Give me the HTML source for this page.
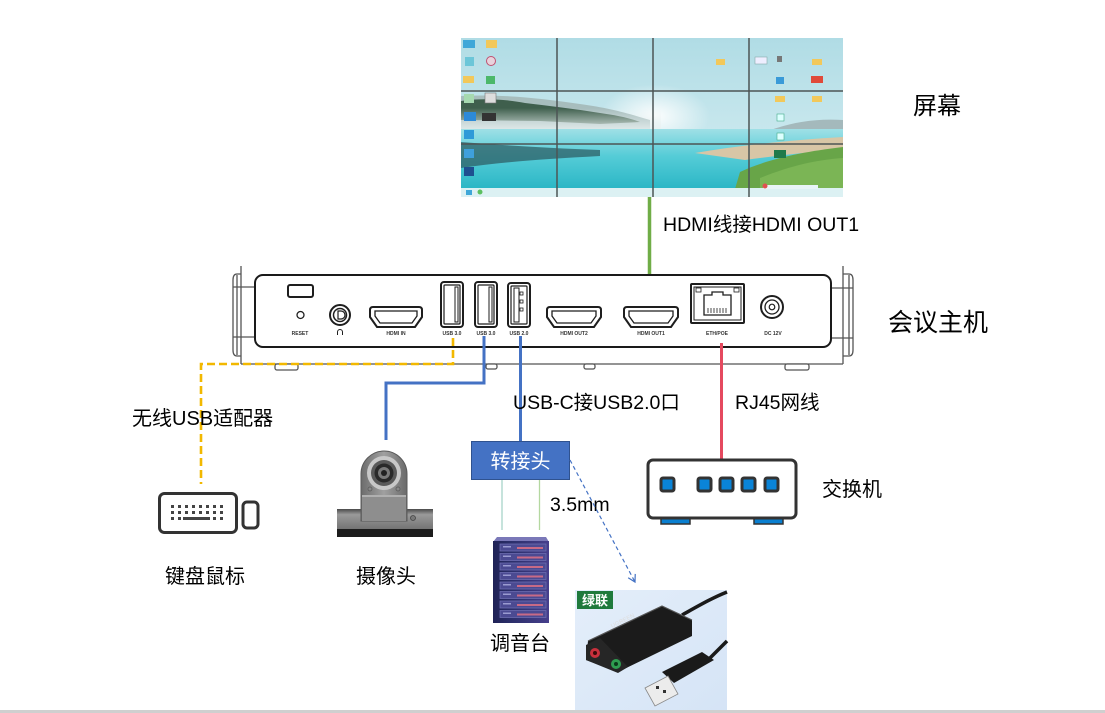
<!DOCTYPE html>
<html><head><meta charset="utf-8">
<style>
html,body{margin:0;padding:0;background:#fff;}
body{width:1105px;height:713px;overflow:hidden;position:relative;}
svg{position:absolute;left:0;top:0;}
.t{font-family:"Liberation Sans","Noto Sans CJK SC",sans-serif;fill:#000;}
.p{font-family:"Liberation Sans",sans-serif;font-weight:bold;font-size:5px;fill:#333;text-anchor:middle;}
</style></head><body>
<svg width="1105" height="713" viewBox="0 0 1105 713" xmlns="http://www.w3.org/2000/svg">
<defs>
 <linearGradient id="sky" x1="0" y1="0" x2="0" y2="1">
  <stop offset="0" stop-color="#b0dce5"/><stop offset="1" stop-color="#d8eff3"/>
 </linearGradient>
 <linearGradient id="water" x1="0" y1="0" x2="0" y2="1">
  <stop offset="0" stop-color="#9fe0e6"/><stop offset="0.45" stop-color="#55ccd7"/><stop offset="1" stop-color="#2ab6c5"/>
 </linearGradient>
 <radialGradient id="sun" cx="0.5" cy="0.5" r="0.5">
  <stop offset="0" stop-color="#ffffff" stop-opacity="0.95"/><stop offset="1" stop-color="#ffffff" stop-opacity="0"/>
 </radialGradient>
 <linearGradient id="mist" x1="0" y1="0" x2="0" y2="1">
  <stop offset="0" stop-color="#e9f1f1" stop-opacity="0"/><stop offset="1" stop-color="#e9f1f1" stop-opacity="0.85"/>
 </linearGradient>
 <linearGradient id="rack" x1="0" y1="0" x2="1" y2="0">
  <stop offset="0" stop-color="#1f2256"/><stop offset="0.35" stop-color="#2c2f6c"/><stop offset="1" stop-color="#463f8c"/>
 </linearGradient>
 <linearGradient id="camhead" x1="0" y1="0" x2="1" y2="0">
  <stop offset="0" stop-color="#6c6c6c"/><stop offset="0.5" stop-color="#a0a0a0"/><stop offset="1" stop-color="#6a6a6a"/>
 </linearGradient>
 <linearGradient id="bar" x1="0" y1="0" x2="0" y2="1">
  <stop offset="0" stop-color="#4a4a4a"/><stop offset="0.25" stop-color="#9a9a9a"/><stop offset="1" stop-color="#6e6e6e"/>
 </linearGradient>
 <linearGradient id="ugbg" x1="0" y1="0" x2="1" y2="1">
  <stop offset="0" stop-color="#e4eefa"/><stop offset="1" stop-color="#d5e4f6"/>
 </linearGradient>
 <clipPath id="scr"><rect x="461" y="38" width="382" height="159"/></clipPath>
 <marker id="arr" markerWidth="10" markerHeight="10" refX="8" refY="5" orient="auto" markerUnits="userSpaceOnUse">
  <path d="M1,1 L8,5 L1,9" fill="none" stroke="#4472c4" stroke-width="1.2"/>
 </marker>
</defs>

<!-- ===== SCREEN ===== -->
<g clip-path="url(#scr)">
 <rect x="461" y="38" width="382" height="159" fill="url(#sky)"/>
 <ellipse cx="655" cy="116" rx="55" ry="32" fill="url(#sun)"/>
 <path d="M461,96 C500,94 540,98 580,104 C610,108 630,114 650,120 L650,130 L461,130 Z" fill="#a7bdbd"/>
 <path d="M461,101 C480,98 505,99 525,103 C550,106 575,109 600,113 C615,115 630,118 640,122 L600,124 L540,121 L461,120 Z" fill="#3f5f4d"/>
 <rect x="461" y="108" width="200" height="22" fill="url(#mist)"/>
 <path d="M760,134 C785,124 810,118 843,120 L843,136 L760,136 Z" fill="#a4b9bc"/>
 <rect x="461" y="129" width="382" height="60" fill="url(#water)"/>
 <path d="M461,142 C500,145 545,148 600,150 L600,156 C545,159 500,162 461,168 Z" fill="#2e5f65" opacity="0.75"/>
 <path d="M695,153 C735,146 790,140 843,137 L843,150 C805,152 775,156 745,160 Z" fill="#d8c6a6"/>
 <path d="M740,172 C765,160 800,152 843,147 L843,189 L735,189 Z" fill="#68a548"/>
 <path d="M760,178 C790,166 815,160 843,158 L843,189 L760,189 Z" fill="#7bb555"/>
 <rect x="461" y="188" width="382" height="9" fill="#dcf1f3"/>
 <!-- icons -->
 <g>
  <rect x="463" y="40" width="12" height="8" fill="#3fa7d8"/>
  <rect x="486" y="40" width="11" height="8" fill="#f2c85a"/>
  <rect x="465" y="57" width="9" height="9" fill="#6cc6d8"/>
  <circle cx="491" cy="61" r="4.5" fill="#e8d2dc" stroke="#c05070" stroke-width="1"/>
  <rect x="463" y="76" width="11" height="7" fill="#f2c85a"/>
  <rect x="486" y="76" width="9" height="8" fill="#4cb86a"/>
  <rect x="464" y="94" width="10" height="9" fill="#a6d9b0"/>
  <rect x="485" y="93" width="11" height="10" fill="#ddd" stroke="#777" stroke-width="0.6"/>
  <rect x="464" y="112" width="12" height="9" fill="#2d8ad8"/>
  <rect x="482" y="113" width="14" height="8" fill="#333"/>
  <rect x="464" y="130" width="10" height="9" fill="#2e9ad8"/>
  <rect x="464" y="149" width="10" height="9" fill="#3ea0dc"/>
  <rect x="464" y="167" width="10" height="9" fill="#1e4f90"/>
  <rect x="716" y="59" width="9" height="6" fill="#f2c85a"/>
  <rect x="755" y="57" width="12" height="7" fill="#eef" stroke="#8aa" stroke-width="0.6"/>
  <rect x="777" y="56" width="5" height="6" fill="#777"/>
  <rect x="812" y="59" width="10" height="6" fill="#f2c85a"/>
  <rect x="776" y="77" width="8" height="7" fill="#3a9ad8"/>
  <rect x="811" y="76" width="12" height="7" fill="#e04a3a"/>
  <rect x="775" y="96" width="10" height="6" fill="#f2c85a"/>
  <rect x="812" y="96" width="10" height="6" fill="#f2c85a"/>
  <rect x="777" y="114" width="7" height="7" fill="#dff" stroke="#4a8" stroke-width="0.6"/>
  <rect x="777" y="133" width="7" height="7" fill="#dff" stroke="#4a8" stroke-width="0.6"/>
  <rect x="774" y="150" width="12" height="8" fill="#1f7a4a"/>
  <rect x="763" y="185" width="55" height="4" fill="#e8f4f6"/>
  <circle cx="765" cy="186" r="2.5" fill="#e05050"/>
  <rect x="466" y="190" width="6" height="5" fill="#3fa7d8"/>
  <circle cx="480" cy="192" r="2.5" fill="#5cc060"/>
 </g>
 <!-- grid -->
 <g stroke="#4d5555" stroke-width="1.5">
  <line x1="557" y1="38" x2="557" y2="197"/>
  <line x1="653" y1="38" x2="653" y2="197"/>
  <line x1="749" y1="38" x2="749" y2="197"/>
  <line x1="461" y1="91" x2="843" y2="91"/>
  <line x1="461" y1="144" x2="843" y2="144"/>
 </g>
</g>

<!-- ===== CONNECTORS ===== -->
<line x1="649.5" y1="197" x2="649.5" y2="305" stroke="#70ad47" stroke-width="3.5"/>

<!-- ===== HOST DEVICE ===== -->
<g fill="none" stroke="#555" stroke-width="1.3">
 <line x1="241" y1="266" x2="241" y2="364"/>
 <line x1="843" y1="266" x2="843" y2="364"/>
 <line x1="241" y1="364" x2="843" y2="364"/>
 <path d="M241,274 H237 Q233,274 233,280 V350 Q233,356 237,356 H241"/>
 <path d="M237,275 V355"/>
 <line x1="233" y1="287" x2="255" y2="287"/>
 <line x1="233" y1="337" x2="255" y2="337"/>
 <path d="M843,274 H849 Q853,274 853,280 V350 Q853,356 849,356 H843"/>
 <path d="M849,275 V355"/>
 <line x1="831" y1="288" x2="853" y2="288"/>
 <line x1="831" y1="338" x2="853" y2="338"/>
 <rect x="275" y="364" width="23" height="6" rx="2" fill="#fff"/>
 <rect x="486" y="364" width="11" height="5" rx="2" fill="#fff"/>
 <rect x="584" y="364" width="11" height="5" rx="2" fill="#fff"/>
 <rect x="785" y="364" width="24" height="6" rx="2" fill="#fff"/>
</g>
<rect x="255" y="275" width="576" height="72" rx="8" fill="#fff" stroke="#1a1a1a" stroke-width="2"/>

<g fill="#fff" stroke="#1e1e1e" stroke-width="2">
 <!-- reset -->
 <rect x="288" y="285" width="25" height="12" rx="2"/>
 <circle cx="300.5" cy="315" r="3.5" stroke-width="1.3"/>
 <!-- audio -->
 <circle cx="340" cy="315" r="10"/>
 <circle cx="340" cy="315" r="6.5" stroke-width="1.5"/>
 <path d="M338,311 h3 a4,4 0 0 1 0,8 h-3 z" stroke-width="1.2"/>
 <path d="M337.5,335 v-3 a2.5,2.5 0 0 1 5,0 v3" stroke-width="1"/>
 <!-- HDMI IN -->
 <path d="M373,307 H419 Q422,307 422,310 V317 L415,327 H377 L370,317 V310 Q370,307 373,307 Z"/>
 <path d="M375,311 H417 V316 L412,323 H380 L375,316 Z" stroke-width="1.3"/>
 <!-- HDMI OUT2 -->
 <path d="M550,307 H598 Q601,307 601,310 V317 L594,327 H554 L547,317 V310 Q547,307 550,307 Z"/>
 <path d="M552,311 H596 V316 L591,323 H557 L552,316 Z" stroke-width="1.3"/>
 <!-- HDMI OUT1 -->
 <path d="M627,307 H675 Q678,307 678,310 V317 L671,327 H631 L624,317 V310 Q624,307 627,307 Z"/>
 <path d="M629,311 H673 V316 L668,323 H634 L629,316 Z" stroke-width="1.3"/>
 <!-- USB 3.0 #1 -->
 <rect x="441" y="282" width="22" height="45" rx="3"/>
 <rect x="444" y="285" width="16" height="39" rx="1" stroke-width="1.2"/>
 <rect x="455" y="287" width="3" height="35" stroke-width="1"/>
 <!-- USB 3.0 #2 -->
 <rect x="475" y="282" width="22" height="45" rx="3"/>
 <rect x="478" y="285" width="16" height="39" rx="1" stroke-width="1.2"/>
 <rect x="489" y="287" width="3" height="35" stroke-width="1"/>
 <!-- USB 2.0 -->
 <rect x="508" y="283" width="22" height="44" rx="3"/>
 <rect x="511" y="286" width="16" height="38" rx="1" stroke-width="1.2"/>
 <rect x="514" y="288" width="5" height="34" stroke-width="1"/>
 <rect x="520" y="292" width="3" height="3" stroke-width="0.8"/>
 <rect x="520" y="300" width="3" height="3" stroke-width="0.8"/>
 <rect x="520" y="308" width="3" height="3" stroke-width="0.8"/>
 <!-- ETH -->
 <rect x="691" y="284" width="53" height="39" rx="1"/>
 <rect x="694" y="287" width="47" height="33" stroke-width="1"/>
 <path d="M704,295 h8 v-3 h11 v3 h8 v20 h-27 z" stroke-width="1.3"/>
 <rect x="696" y="288" width="5" height="4" stroke-width="0.8"/>
 <rect x="734" y="288" width="5" height="4" stroke-width="0.8"/>
 <path d="M708,308 v5 M711,308 v5 M714,308 v5 M717,308 v5 M720,308 v5 M723,308 v5 M726,308 v5" stroke-width="0.8"/>
 <!-- DC -->
 <circle cx="772" cy="307" r="11"/>
 <circle cx="772" cy="307" r="7" stroke-width="1.3"/>
 <circle cx="772" cy="307" r="2.8" stroke-width="1.2"/>
</g>
<g class="p">
 <text x="300" y="335">RESET</text>
 <text x="396" y="335">HDMI IN</text>
 <text x="452" y="335">USB 3.0</text>
 <text x="486" y="335">USB 3.0</text>
 <text x="519" y="335">USB 2.0</text>
 <text x="574" y="335">HDMI OUT2</text>
 <text x="651" y="335">HDMI OUT1</text>
 <text x="717" y="335">ETH/POE</text>
 <text x="773" y="335">DC 12V</text>
</g>

<!-- yellow dashed -->
<path d="M453,338 V364 H201 V484" fill="none" stroke="#f2b800" stroke-width="2.6" stroke-dasharray="8,4"/>
<!-- blue lines -->
<path d="M484,336 V383 H386 V440" fill="none" stroke="#4472c4" stroke-width="3"/>
<line x1="520.5" y1="336" x2="520.5" y2="441" stroke="#4472c4" stroke-width="3"/>
<!-- red -->
<line x1="721.5" y1="343" x2="721.5" y2="459" stroke="#e5495f" stroke-width="3"/>

<!-- ===== LABELS ===== -->
<text class="t" x="913" y="114" font-size="24">屏幕</text>
<text class="t" x="663" y="231" font-size="19.5">HDMI线接HDMI OUT1</text>
<text class="t" x="888" y="331" font-size="25">会议主机</text>
<text class="t" x="132" y="425" font-size="20">无线USB适配器</text>
<text class="t" x="513" y="409" font-size="19.5">USB-C接USB2.0口</text>
<text class="t" x="735" y="409" font-size="19.5">RJ45网线</text>
<text class="t" x="550" y="511" font-size="19.5">3.5mm</text>
<text class="t" x="165" y="583" font-size="20">键盘鼠标</text>
<text class="t" x="356" y="583" font-size="20">摄像头</text>
<text class="t" x="490" y="650" font-size="20">调音台</text>
<text class="t" x="822" y="496" font-size="20">交换机</text>

<!-- 转接头 box -->
<rect x="471.5" y="441.5" width="98" height="38" fill="#4472c4" stroke="#2f528f" stroke-width="1"/>
<text class="t" x="520.5" y="468" font-size="20" text-anchor="middle" style="fill:#fff">转接头</text>
<line x1="502" y1="480" x2="502" y2="530" stroke="#a8d4c8" stroke-width="1.3"/>
<line x1="539.5" y1="480" x2="539.5" y2="530" stroke="#b4d8a0" stroke-width="1.3"/>
<line x1="570" y1="460" x2="635" y2="582" stroke="#4472c4" stroke-width="1.2" stroke-dasharray="4,3" marker-end="url(#arr)"/>

<!-- ===== KEYBOARD ===== -->
<g>
 <rect x="159.5" y="493.5" width="77" height="39" rx="5" fill="#fff" stroke="#333" stroke-width="3"/>
 <rect x="243" y="502" width="15" height="26" rx="4" fill="#fff" stroke="#333" stroke-width="3"/>
 <g fill="#444">
  <rect x="171" y="505" width="3" height="3"/><rect x="178" y="505" width="3" height="3"/><rect x="185" y="505" width="3" height="3"/><rect x="192" y="505" width="3" height="3"/><rect x="199" y="505" width="3" height="3"/><rect x="206" y="505" width="3" height="3"/><rect x="213" y="505" width="3" height="3"/><rect x="220" y="505" width="3" height="3"/>
  <rect x="171" y="511" width="3" height="3"/><rect x="178" y="511" width="3" height="3"/><rect x="185" y="511" width="3" height="3"/><rect x="192" y="511" width="3" height="3"/><rect x="199" y="511" width="3" height="3"/><rect x="206" y="511" width="3" height="3"/><rect x="213" y="511" width="3" height="3"/><rect x="220" y="511" width="3" height="3"/>
  <rect x="171" y="517" width="3" height="3"/><rect x="178" y="517" width="3" height="3"/><rect x="183" y="517" width="27" height="3"/><rect x="213" y="517" width="3" height="3"/><rect x="220" y="517" width="3" height="3"/>
 </g>
</g>

<!-- ===== CAMERA ===== -->
<g>
 <rect x="337" y="509" width="96" height="22" fill="url(#bar)"/>
 <rect x="337" y="529" width="96" height="8" fill="#1c1c1c"/>
 <circle cx="413" cy="518" r="2.5" fill="#777" stroke="#444" stroke-width="0.8"/>
 <path d="M361,521 V474 A23,23 0 0 1 407,474 V521 Z" fill="url(#camhead)" stroke="#5a5a5a" stroke-width="1"/>
 <rect x="362" y="495" width="44" height="26" fill="#8e8e8e"/>
 <rect x="362" y="495" width="44" height="2" fill="#b0b0b0"/>
 <circle cx="370" cy="489" r="2" fill="#888" stroke="#555" stroke-width="0.7"/>
 <circle cx="398" cy="489" r="2" fill="#888" stroke="#555" stroke-width="0.7"/>
 <circle cx="384" cy="473" r="17" fill="#c8c8c8"/>
 <circle cx="384" cy="473" r="13" fill="#5a5a5a"/>
 <circle cx="384" cy="473" r="9.5" fill="#2a2a2a"/>
 <circle cx="384" cy="473" r="6" fill="#7a7a7a"/>
 <circle cx="384" cy="473" r="3" fill="#222"/>
</g>

<!-- ===== SWITCH ===== -->
<g>
 <rect x="661" y="517" width="29" height="7" fill="#0a7fd0" stroke="#333" stroke-width="1.5"/>
 <rect x="754" y="517" width="29" height="7" fill="#0a7fd0" stroke="#333" stroke-width="1.5"/>
 <rect x="648" y="460" width="148" height="58" rx="5" fill="#fff" stroke="#333" stroke-width="3"/>
 <g fill="#0a84d8" stroke="#333" stroke-width="3">
  <rect x="661" y="478" width="13" height="13" rx="2"/>
  <rect x="698" y="478" width="13" height="13" rx="2"/>
  <rect x="720" y="478" width="13" height="13" rx="2"/>
  <rect x="742" y="478" width="13" height="13" rx="2"/>
  <rect x="765" y="478" width="13" height="13" rx="2"/>
 </g>
</g>

<!-- ===== MIXER (rack) ===== -->
<g>
 <polygon points="497,537 546,537 549,542 493,542" fill="#7a78b8"/>
 <rect x="493" y="541" width="56" height="82" fill="url(#rack)"/>
 <g fill="#4b4a92" stroke="#6c6cb0" stroke-width="0.8">
  <rect x="500" y="544" width="46" height="7"/>
  <rect x="500" y="553.5" width="46" height="7"/>
  <rect x="500" y="563" width="46" height="7"/>
  <rect x="500" y="572.5" width="46" height="7"/>
  <rect x="500" y="582" width="46" height="7"/>
  <rect x="500" y="591.5" width="46" height="7"/>
  <rect x="500" y="601" width="46" height="7"/>
  <rect x="500" y="610.5" width="46" height="7"/>
 </g>
 <g fill="#c86a86">
  <rect x="517" y="547" width="26" height="2"/>
  <rect x="517" y="556.5" width="26" height="2"/>
  <rect x="517" y="566" width="26" height="2"/>
  <rect x="517" y="575.5" width="26" height="2"/>
  <rect x="517" y="585" width="26" height="2"/>
  <rect x="517" y="594.5" width="26" height="2"/>
  <rect x="517" y="604" width="26" height="2"/>
  <rect x="517" y="613.5" width="26" height="2"/>
 </g>
 <g fill="#9a9ad0">
  <rect x="503" y="546" width="8" height="1.5"/><rect x="503" y="555.5" width="8" height="1.5"/><rect x="503" y="565" width="8" height="1.5"/><rect x="503" y="574.5" width="8" height="1.5"/><rect x="503" y="584" width="8" height="1.5"/><rect x="503" y="593.5" width="8" height="1.5"/><rect x="503" y="603" width="8" height="1.5"/><rect x="503" y="612.5" width="8" height="1.5"/>
 </g>
</g>

<!-- ===== UGREEN ===== -->
<g>
 <rect x="575" y="590" width="152" height="120" fill="url(#ugbg)"/>
 <rect x="577" y="591" width="36" height="18" fill="#1f7a3c"/>
 <text x="595" y="605" font-size="13" font-weight="bold" text-anchor="middle" style="font-family:'Liberation Sans','Noto Sans CJK SC',sans-serif;fill:#fff">绿联</text>
 <path d="M682,615 C700,605 712,598 727,592" fill="none" stroke="#1a1a1a" stroke-width="3.5"/>
 <path d="M708,660 C716,652 722,646 727,641" fill="none" stroke="#1a1a1a" stroke-width="3.5"/>
 <polygon points="588,641 662,606 692,620 692,636 618,672 586,660" fill="#1b1b1b"/>
 <polyline points="588,641 662,606 692,620" fill="none" stroke="#555" stroke-width="1.2"/>
 <polygon points="586,645 600,638 628,667 618,673 586,660" fill="#262626"/>
 <circle cx="595" cy="653" r="5" fill="#c8303c"/><circle cx="595" cy="653" r="2" fill="#3a0a0a"/>
 <circle cx="616" cy="664" r="5" fill="#2e9e50"/><circle cx="616" cy="664" r="2" fill="#0a3a1a"/>
 <text x="612" y="628" font-size="6" transform="rotate(-26 612 628)" style="font-family:'Liberation Sans',sans-serif;fill:#ddd">UGREEN</text>
 <polygon points="662,672 702,652 714,660 674,683" fill="#1a1a1a"/>
 <polygon points="645,688 668,676 678,694 655,706" fill="#ececec" stroke="#888" stroke-width="0.8"/>
 <rect x="656" y="686" width="3" height="3" fill="#333"/><rect x="663" y="690" width="3" height="3" fill="#333"/>
</g>

<!-- bottom bar -->
<rect x="0" y="710" width="1105" height="3" fill="#cfcfcf"/>
</svg>
</body></html>
